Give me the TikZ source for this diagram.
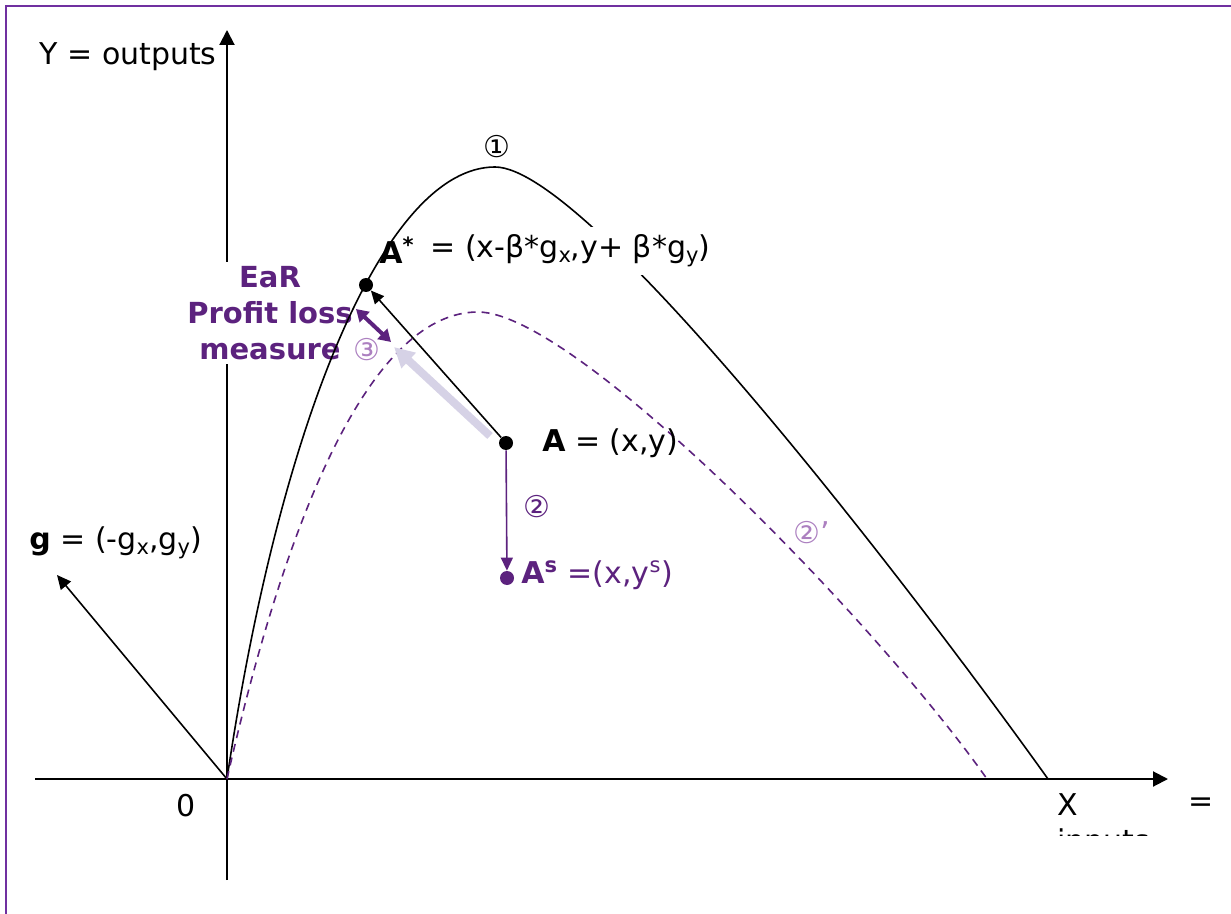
\documentclass[tikz,border=0pt]{standalone}
\usepackage{fontspec}
\setmainfont{DejaVu Sans}
\usetikzlibrary{arrows.meta}

\definecolor{framepurple}{RGB}{112,48,160}
\definecolor{earpurple}{RGB}{92,34,126}
\definecolor{softpurple}{RGB}{172,128,192}
\definecolor{lavender}{RGB}{214,210,230}
\newcommand{\lowsub}[1]{\raisebox{-0.3ex}{\fontsize{10.5}{12}\selectfont #1}}

\begin{document}
\begin{tikzpicture}[
    x=0.5pt, y=-0.5pt,
    font=\fontsize{15}{18}\selectfont,
    frame/.style={draw=framepurple, line width=1.2pt},
    axis/.style={line width=1pt, -{Triangle[length=7.5pt,width=7.5pt]}},
    curve/.style={line width=0.8pt},
    shifted/.style={earpurple, line width=0.8pt, dash pattern=on 4pt off 3pt},
    dot/.style={circle, fill, inner sep=0pt, minimum size=7pt},
    label/.style={inner sep=1pt},
    ptarrow/.style={line width=0.8pt, -{Triangle[length=6.5pt,width=6pt]}},
    bigarrow/.style={lavender, line width=4pt, -{Triangle[length=10pt,width=10pt]}},
    lossarrow/.style={earpurple, line width=2pt, {Triangle[length=6pt,width=7pt]}-{Triangle[length=6pt,width=7pt]}}
]
\useasboundingbox (0,0) rectangle (1231,914);
\draw[frame] (6,914) -- (6,6) -- (1231,6);

% axes and reference points
\coordinate (O) at (227,779);
\coordinate (xs) at (35,779);
\coordinate (xe) at (1168,779);
\coordinate (ys) at (227,880);
\coordinate (ye) at (227,30);
\coordinate (gtip) at (57,575);
\coordinate (top) at (495,167);
\coordinate (top2) at (478,312);

\draw[axis] (ys) -- (ye);
\draw[axis] (xs) -- (xe);
\draw[line width=0.8pt, -{Triangle[length=7pt,width=6.5pt]}] (O) -- (gtip);

\node[label, font=\bfseries\fontsize{14.5}{18}\selectfont, text=earpurple,
      fill=white, align=center, inner xsep=0pt, inner ysep=2pt] (ear) at (270,313) {EaR\\Profit loss\\measure};

% frontiers
\draw[curve] (O) .. controls (280,420) and (385,167) .. (top)
                 .. controls (590,167) and (920,600) .. (1048,779);
\draw[shifted] (O) .. controls (290,500) and (375,312) .. (top2)
                   .. controls (575,312) and (875,620) .. (987,779);

% labels
\node[label, anchor=west, fill=white, inner ysep=4pt] (astarlab) at (428,251)
    {= (x-β*g\lowsub{x},y+ β*g\lowsub{y})};
\node[label] (astarname) at (397,250) {\textbf{A\textsuperscript{*}}};
\node[label, anchor=east] (ylab) at (219,57) {Y = outputs};
\node[label] (one) at (497,147) {①};
\node[label, anchor=west] (alab) at (540,443) {\textbf{A} = (x,y)};
\node[label, anchor=west, text=earpurple] (aslab) at (519,575)
    {\textbf{A\textsuperscript{s}} =(x,y\textsuperscript{s})};
\node[label, text=earpurple] (two) at (537,507) {②};
\node[label, text=softpurple] (twop) at (812,533) {②’};
\node[label, text=softpurple] (three) at (367,350) {③};
\node[label, anchor=west] (glab) at (27,543) {\textbf{g} = (-g\lowsub{x},g\lowsub{y})};
\node[label] (zero) at (186,806) {0};
\node[label] (xlab) at (1068,805) {X};
\node[label] (eq) at (1201,805) {=};
\begin{scope}
  \clip (1000,790) rectangle (1231,835);
  \node[label, anchor=west] (inputs) at (1055,843) {inputs};
\end{scope}

% points
\node[dot] (Astar) at (366,285) {};
\node[dot] (A) at (506,443) {};
\node[dot, earpurple] (As) at (507,578) {};

% connectors
\coordinate (b0) at (490,436);
\coordinate (b1) at (394,347);
\coordinate (l0) at (356,309);
\coordinate (l1) at (391,342);
\draw[bigarrow] (b0) -- (b1);
\draw[ptarrow] (A) -- (Astar);
\draw[ptarrow, earpurple] (A) -- (As);
\draw[lossarrow] (l0) -- (l1);
\end{tikzpicture}
\end{document}
